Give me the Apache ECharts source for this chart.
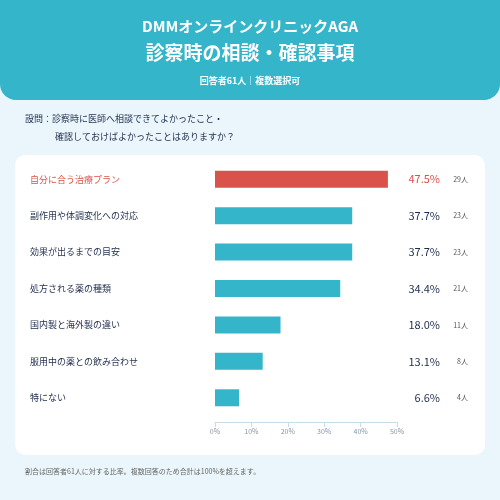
<!DOCTYPE html><html><head><meta charset="utf-8">
<script src="https://cdn.jsdelivr.net/npm/echarts@6/dist/echarts.min.js"></script>
<style>html,body{margin:0;padding:0;background:#eaf6fb}#c{width:500px;height:500px}</style></head><body><div id="c"></div>
<script>
const categories=['自分に合う治療プラン','副作用や体調変化への対応','効果が出るまでの目安','処方される薬の種類','国内製と海外製の違い','服用中の薬との飲み合わせ','特にない'];
const percents=[47.5,37.7,37.7,34.4,18.0,13.1,6.6];
const counts=[29,23,23,21,11,8,4];
const xTicks=[0,10,20,30,40,50];
const F='"Noto Sans CJK JP",sans-serif';
const teal='#35b5c9',red='#d9534a',navy='#1f2d4d';
const ch=echarts.init(document.getElementById('c'));
ch.setOption({
 backgroundColor:'#eaf6fb',animation:false,
 graphic:[
  {type:'rect',shape:{x:0,y:-20,width:500,height:120,r:16},style:{fill:teal}},
  {type:'rect',shape:{x:15,y:155,width:470,height:300,r:10},style:{fill:'#fff'}},
  {type:'text',x:250,y:26,style:{text:'DMMオンラインクリニックAGA',fill:'#fff',font:'bold 15px '+F,align:'center',verticalAlign:'middle'}},
  {type:'text',x:250,y:53,style:{text:'診察時の相談・確認事項',fill:'#fff',font:'bold 19px '+F,align:'center',verticalAlign:'middle'}},
  {type:'text',x:250,y:81,style:{text:'回答者61人｜複数選択可',fill:'#fff',font:'bold 9px '+F,align:'center',verticalAlign:'middle'}},
  {type:'text',x:25,y:119,style:{text:'設問：診察時に医師へ相談できてよかったこと・',fill:navy,font:'9px '+F,verticalAlign:'middle'}},
  {type:'text',x:55,y:137,style:{text:'確認しておけばよかったことはありますか？',fill:navy,font:'9px '+F,verticalAlign:'middle'}},
  {type:'text',x:25,y:471,style:{text:'割合は回答者61人に対する比率。複数回答のため合計は100%を超えます。',fill:'#666',font:'7px '+F,verticalAlign:'middle'}}
 ],
 grid:{left:215,right:103,top:161,bottom:84},
 xAxis:{type:'value',min:0,max:50,interval:10,offset:6,
  axisLine:{show:true,lineStyle:{color:'#c8dce6'}},axisTick:{show:true,length:5,inside:false,lineStyle:{color:'#c8dce6'}},
  splitLine:{show:false},axisLabel:{formatter:v=>v+'%',fontSize:7,color:'#8895a7',fontFamily:F,margin:6}},
 yAxis:[
  {type:'category',data:categories,inverse:true,axisLine:{show:false},axisTick:{show:false},
   axisLabel:{align:'left',margin:185,fontSize:9,fontFamily:F,color:(v,i)=>i===0?red:navy}},
  {type:'category',data:categories,inverse:true,position:'right',axisLine:{show:false},axisTick:{show:false},
   axisLabel:{margin:0,formatter:(v,i)=>(i===0?'{r|':'{a|')+percents[i].toFixed(1)+'%}{b|'+counts[i]+'人}',
    rich:{a:{width:43,align:'right',fontSize:11,color:navy,fontFamily:F},r:{width:43,align:'right',fontSize:11,color:red,fontFamily:F},b:{width:28,align:'right',fontSize:7,color:'#555',fontFamily:F}}}}
 ],
 series:[{type:'bar',data:percents.map((v,i)=>({value:v,itemStyle:{color:i===0?red:teal}})),barWidth:17}]
});
</script></body></html>
